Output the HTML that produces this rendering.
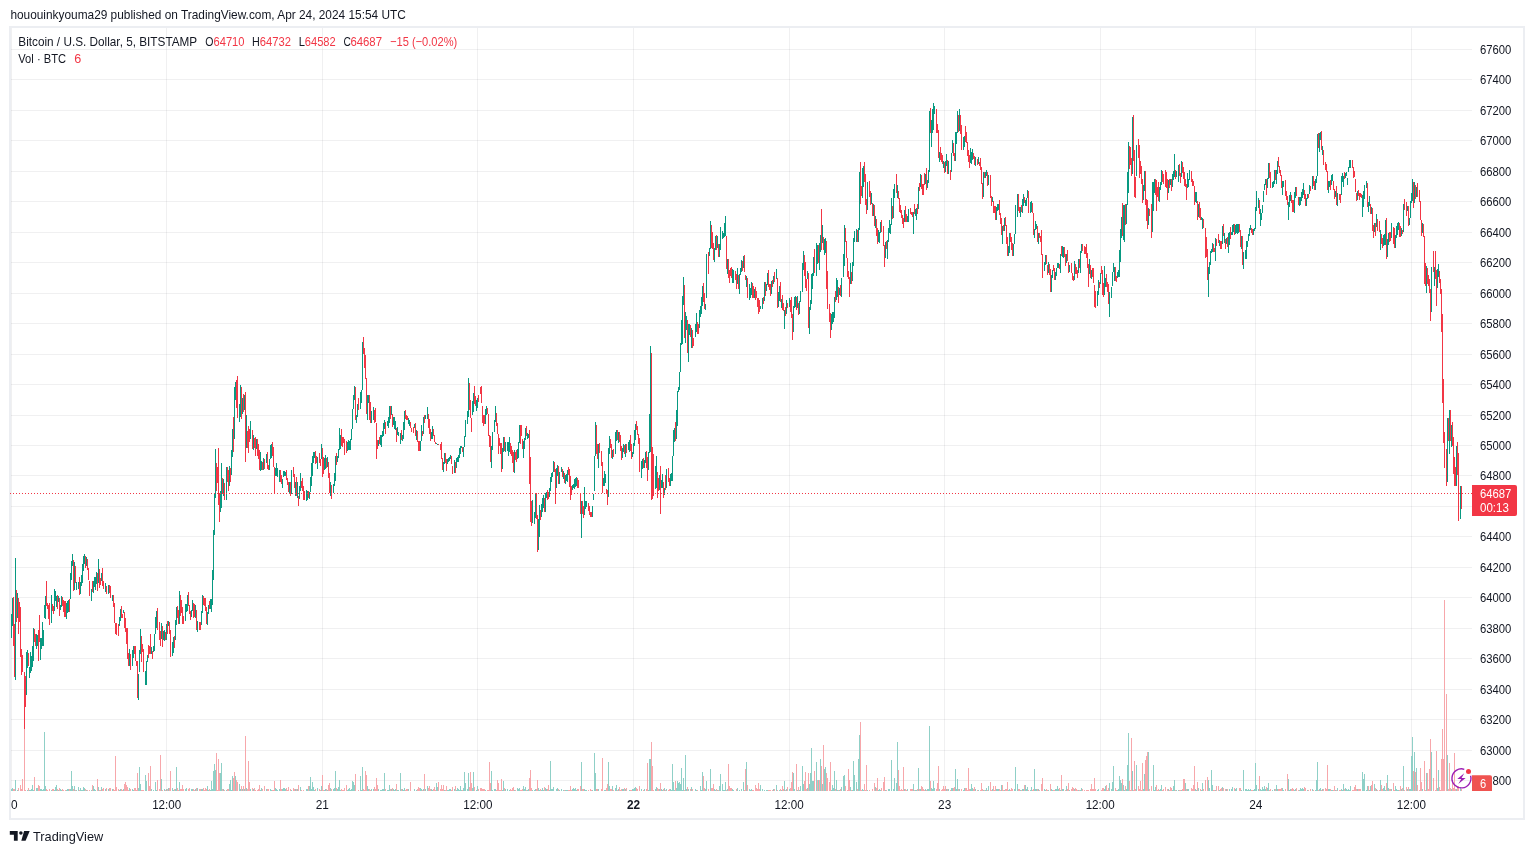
<!DOCTYPE html>
<html><head><meta charset="utf-8"><title>BTCUSD chart</title>
<style>html,body{margin:0;padding:0;background:#fff;width:1534px;height:854px;overflow:hidden}</style>
</head><body>
<svg width="1534" height="854" viewBox="0 0 1534 854" style="position:absolute;left:0;top:0;font-family:'Liberation Sans',Arial,sans-serif">
<rect x="0" y="0" width="1534" height="854" fill="#ffffff"/>
<g shape-rendering="crispEdges">
<rect x="9" y="26" width="1516" height="2" fill="#eceef2"/>
<rect x="9" y="818" width="1516" height="2" fill="#eceef2"/>
<rect x="9" y="26" width="2" height="794" fill="#eceef2"/>
<rect x="1523" y="26" width="2" height="794" fill="#eceef2"/>
<path d="M11 49H1472M11 79H1472M11 110H1472M11 140H1472M11 171H1472M11 201H1472M11 232H1472M11 262H1472M11 293H1472M11 323H1472M11 354H1472M11 384H1472M11 415H1472M11 445H1472M11 475H1472M11 506H1472M11 536H1472M11 567H1472M11 597H1472M11 628H1472M11 658H1472M11 689H1472M11 719H1472M11 750H1472M11 780H1472" stroke="#2a2e39" stroke-opacity="0.07" stroke-width="1" fill="none" transform="translate(0,0.5)"/>
<path d="M11 28V791M166 28V791M322 28V791M477 28V791M633 28V791M789 28V791M944 28V791M1100 28V791M1255 28V791M1411 28V791" stroke="#2a2e39" stroke-opacity="0.07" stroke-width="1" fill="none" transform="translate(0.5,0)"/>
</g>
<g shape-rendering="crispEdges" transform="translate(0.5,0)">
<path d="M11 789v2M12 788v3M15 780v11M17 790v1M27 790v1M29 790v1M30 790v1M31 789v2M32 785v6M33 790v1M36 788v3M37 788v3M40 789v2M41 789v2M42 790v1M43 789v2M44 732v59M45 786v5M51 790v1M54 790v1M55 787v4M56 785v6M58 790v1M60 789v2M61 790v1M66 790v1M67 789v2M68 789v2M70 789v2M71 771v20M72 786v5M74 786v5M76 790v1M78 787v4M80 788v3M81 790v1M82 790v1M83 787v4M84 788v3M86 790v1M91 790v1M93 786v5M94 789v2M95 790v1M98 787v4M101 787v4M105 789v2M108 789v2M112 789v2M119 790v1M120 789v2M123 789v2M129 788v3M132 789v2M133 790v1M138 788v3M139 767v24M140 784v7M145 775v16M146 781v10M151 789v2M153 790v1M155 782v9M156 790v1M161 779v12M164 789v2M166 789v2M168 788v3M172 788v3M173 790v1M175 789v2M176 767v24M179 782v9M185 789v2M186 788v3M191 789v2M192 789v2M195 789v2M197 788v3M201 789v2M202 789v2M207 786v5M208 790v1M210 790v1M211 781v10M212 789v2M213 771v20M214 764v27M215 770v21M220 773v18M221 763v28M223 789v2M226 790v1M229 784v7M230 780v11M231 790v1M232 776v15M235 776v15M239 784v7M240 789v2M242 789v2M244 789v2M246 788v3M250 789v2M253 789v2M260 790v1M261 788v3M266 789v2M270 789v2M271 790v1M275 788v3M276 789v2M277 790v1M279 789v2M282 789v2M283 788v3M284 788v3M285 789v2M291 790v1M295 789v2M297 789v2M300 787v4M306 789v2M307 789v2M309 786v5M310 777v14M311 789v2M312 782v9M313 787v4M314 790v1M317 788v3M321 786v5M324 790v1M325 789v2M327 790v1M330 788v3M333 789v2M334 788v3M335 771v20M337 789v2M338 787v4M339 780v11M340 790v1M347 790v1M348 789v2M349 788v3M350 790v1M351 789v2M352 781v10M353 782v9M354 785v6M360 776v15M361 790v1M362 767v24M367 786v5M368 789v2M371 789v2M373 789v2M378 789v2M380 790v1M381 790v1M382 789v2M383 789v2M384 773v18M387 790v1M388 790v1M389 785v6M391 789v2M393 789v2M394 790v1M395 789v2M397 790v1M398 790v1M400 773v18M402 789v2M403 790v1M404 788v3M408 789v2M414 789v2M416 790v1M420 788v3M421 789v2M423 789v2M425 789v2M427 786v5M431 789v2M432 790v1M436 783v8M437 787v4M444 790v1M447 790v1M448 790v1M449 789v2M450 789v2M454 789v2M456 790v1M457 788v3M458 789v2M459 790v1M460 786v5M461 790v1M463 788v3M464 772v19M465 783v8M467 789v2M468 773v18M472 788v3M473 772v19M476 790v1M477 786v5M485 790v1M491 771v20M492 790v1M494 789v2M495 789v2M502 790v1M503 781v10M505 789v2M507 789v2M509 790v1M514 790v1M517 788v3M518 789v2M519 788v3M523 786v5M524 789v2M525 787v4M527 790v1M528 789v2M532 790v1M534 790v1M535 789v2M538 788v3M539 790v1M541 790v1M542 788v3M543 790v1M545 788v3M546 789v2M549 790v1M550 761v30M551 789v2M552 789v2M553 787v4M556 789v2M557 788v3M559 790v1M561 789v2M563 790v1M565 790v1M566 790v1M567 790v1M572 789v2M573 788v3M574 789v2M575 788v3M576 790v1M581 762v29M584 789v2M585 790v1M586 790v1M592 790v1M594 753v38M595 773v18M598 789v2M604 790v1M605 790v1M608 762v29M609 786v5M612 786v5M615 788v3M616 785v6M618 789v2M622 789v2M623 789v2M625 789v2M629 790v1M632 789v2M633 789v2M634 788v3M635 787v4M641 789v2M644 789v2M648 790v1M649 759v32M650 759v32M655 789v2M656 787v4M659 789v2M661 789v2M662 790v1M664 788v3M666 789v2M670 789v2M671 790v1M672 764v27M673 782v9M674 790v1M676 788v3M677 781v10M678 783v8M679 782v9M680 784v7M681 768v23M682 790v1M683 778v13M685 755v36M686 789v2M688 789v2M691 787v4M695 789v2M696 790v1M700 786v5M701 790v1M702 772v19M705 789v2M706 781v10M710 769v22M714 789v2M715 790v1M717 790v1M719 786v5M720 774v17M722 784v7M723 790v1M724 790v1M725 782v9M727 789v2M732 789v2M733 790v1M737 788v3M739 790v1M741 789v2M743 782v9M746 762v29M749 789v2M750 790v1M751 789v2M760 785v6M762 789v2M764 790v1M766 790v1M767 790v1M773 789v2M776 785v6M779 790v1M781 790v1M784 781v10M786 789v2M789 789v2M793 773v18M794 789v2M797 790v1M799 790v1M800 786v5M802 766v25M803 784v7M807 788v3M809 784v7M810 773v18M811 748v43M812 781v10M813 781v10M816 762v29M818 780v11M820 759v32M822 784v7M824 769v22M825 767v24M831 790v1M832 785v6M833 788v3M834 771v20M836 780v11M837 790v1M839 790v1M841 787v4M843 776v15M844 775v16M850 787v4M852 790v1M853 761v30M854 775v16M856 782v9M858 759v32M859 735v56M862 789v2M863 790v1M867 790v1M875 787v4M878 790v1M879 789v2M880 790v1M885 790v1M888 789v2M889 789v2M891 760v31M893 789v2M894 778v13M896 783v8M897 742v49M904 789v2M907 789v2M913 784v7M915 790v1M916 790v1M918 768v23M920 789v2M925 789v2M927 789v2M928 789v2M929 726v65M931 788v3M932 789v2M933 781v10M934 788v3M939 789v2M946 789v2M948 789v2M951 788v3M952 788v3M955 769v22M956 789v2M957 779v12M959 789v2M963 790v1M964 788v3M970 789v2M971 784v7M972 788v3M975 789v2M978 790v1M983 790v1M985 790v1M986 788v3M988 786v5M992 789v2M996 789v2M997 789v2M998 789v2M1001 785v6M1004 790v1M1008 790v1M1009 789v2M1014 789v2M1015 767v24M1017 784v7M1020 790v1M1022 789v2M1023 789v2M1025 785v6M1026 789v2M1027 787v4M1030 790v1M1031 787v4M1034 769v22M1035 789v2M1036 789v2M1038 789v2M1044 789v2M1045 790v1M1048 790v1M1051 789v2M1052 790v1M1055 789v2M1056 789v2M1057 786v5M1058 789v2M1060 790v1M1062 789v2M1063 789v2M1066 786v5M1069 790v1M1074 789v2M1078 790v1M1080 790v1M1081 788v3M1097 790v1M1098 789v2M1104 789v2M1105 786v5M1109 783v8M1111 789v2M1112 782v9M1113 766v25M1117 790v1M1118 789v2M1119 776v15M1120 780v11M1121 783v8M1123 785v6M1124 790v1M1126 789v2M1127 765v26M1128 733v58M1132 771v20M1136 765v26M1143 789v2M1144 774v17M1148 752v39M1153 765v26M1154 790v1M1155 787v4M1159 790v1M1160 789v2M1161 785v6M1168 789v2M1172 790v1M1173 786v5M1174 780v11M1176 790v1M1178 790v1M1181 790v1M1185 783v8M1187 789v2M1188 789v2M1195 789v2M1196 790v1M1198 788v3M1201 790v1M1202 783v8M1208 780v11M1209 788v3M1211 770v21M1212 785v6M1215 790v1M1219 790v1M1222 787v4M1226 789v2M1229 789v2M1231 789v2M1232 787v4M1235 789v2M1236 788v3M1241 790v1M1243 770v21M1245 789v2M1246 789v2M1247 790v1M1248 789v2M1249 790v1M1250 789v2M1253 790v1M1254 789v2M1255 763v28M1256 785v6M1258 789v2M1260 789v2M1261 790v1M1262 787v4M1263 789v2M1264 786v5M1265 789v2M1267 788v3M1268 783v8M1272 790v1M1274 789v2M1276 785v6M1277 789v2M1282 788v3M1283 790v1M1288 779v12M1289 790v1M1290 789v2M1294 790v1M1295 789v2M1299 790v1M1300 788v3M1301 789v2M1302 788v3M1303 789v2M1307 790v1M1312 789v2M1315 790v1M1316 780v11M1317 762v29M1319 789v2M1320 788v3M1322 789v2M1328 789v2M1329 789v2M1331 790v1M1332 790v1M1335 790v1M1337 788v3M1341 789v2M1342 790v1M1343 784v7M1345 788v3M1346 789v2M1347 790v1M1348 789v2M1349 790v1M1350 786v5M1357 789v2M1362 772v19M1363 779v12M1364 774v17M1366 790v1M1367 786v5M1369 790v1M1370 786v5M1374 784v7M1376 789v2M1380 780v11M1383 788v3M1384 786v5M1385 790v1M1387 775v16M1388 788v3M1391 789v2M1395 786v5M1396 789v2M1397 790v1M1398 790v1M1401 789v2M1403 766v25M1407 789v2M1409 789v2M1410 789v2M1411 756v35M1412 737v54M1414 752v39M1416 768v23M1422 789v2M1426 773v18M1431 752v39M1437 788v3M1438 770v21M1447 755v36M1451 789v2M1456 789v2M1460 787v4" stroke="#8fd0c7" stroke-width="1" fill="none"/>
<path d="M13 789v2M14 789v2M18 788v3M20 785v6M21 789v2M22 779v12M24 725v66M25 790v1M28 788v3M34 777v14M38 785v6M39 786v5M46 789v2M47 790v1M49 789v2M52 789v2M53 789v2M57 789v2M59 788v3M62 789v2M63 790v1M65 790v1M69 789v2M73 789v2M75 790v1M79 790v1M85 789v2M87 790v1M89 790v1M92 785v6M97 779v12M99 790v1M100 790v1M102 789v2M103 788v3M106 788v3M109 788v3M110 788v3M113 789v2M114 790v1M115 756v35M116 787v4M118 789v2M121 789v2M122 790v1M124 784v7M125 782v9M126 785v6M127 787v4M128 790v1M130 789v2M134 788v3M135 788v3M136 790v1M137 773v18M141 790v1M142 790v1M143 790v1M148 773v18M149 786v5M150 766v25M157 780v11M159 789v2M160 755v36M162 790v1M165 790v1M167 789v2M169 788v3M170 771v20M174 789v2M177 788v3M178 790v1M180 789v2M181 789v2M182 785v6M183 789v2M188 789v2M189 788v3M193 789v2M194 790v1M196 788v3M199 789v2M200 789v2M203 788v3M204 790v1M205 788v3M206 789v2M209 789v2M216 753v38M217 790v1M218 759v32M219 773v18M222 789v2M224 790v1M227 789v2M228 789v2M233 778v13M234 772v19M236 780v11M237 782v9M241 786v5M243 786v5M245 736v55M247 789v2M248 761v30M249 782v9M252 788v3M254 788v3M255 790v1M257 790v1M258 789v2M259 785v6M262 789v2M264 786v5M267 789v2M268 789v2M272 790v1M273 790v1M274 781v10M280 780v11M281 789v2M286 788v3M287 790v1M288 787v4M290 789v2M293 788v3M294 789v2M296 789v2M298 785v6M301 790v1M303 790v1M308 786v5M315 789v2M319 789v2M320 790v1M322 775v16M323 790v1M326 789v2M328 785v6M329 783v8M331 789v2M336 788v3M341 789v2M342 790v1M343 790v1M344 788v3M346 785v6M355 774v17M358 790v1M363 789v2M364 790v1M365 771v20M366 775v16M369 789v2M370 790v1M374 787v4M375 789v2M376 778v13M377 785v6M385 789v2M390 789v2M392 788v3M396 784v7M401 789v2M405 790v1M406 789v2M407 789v2M410 782v9M417 789v2M418 787v4M419 788v3M422 790v1M424 774v17M428 788v3M429 786v5M430 789v2M433 789v2M434 787v4M435 790v1M438 782v9M440 789v2M441 785v6M442 789v2M443 785v6M445 790v1M446 786v5M451 790v1M452 787v4M455 786v5M462 790v1M469 787v4M470 772v19M471 783v8M474 787v4M478 789v2M480 788v3M481 788v3M482 789v2M483 789v2M484 789v2M487 790v1M488 790v1M489 762v29M490 783v8M496 790v1M497 780v11M498 783v8M499 790v1M500 790v1M501 779v12M504 788v3M510 789v2M511 790v1M512 788v3M513 787v4M515 790v1M520 790v1M521 790v1M522 789v2M526 790v1M529 778v13M530 770v21M531 788v3M536 789v2M537 780v11M540 789v2M544 787v4M547 789v2M548 785v6M558 789v2M564 790v1M568 790v1M569 790v1M570 786v5M571 790v1M577 789v2M578 789v2M580 786v5M582 789v2M583 789v2M588 790v1M590 789v2M591 790v1M596 789v2M597 789v2M601 789v2M602 758v33M606 788v3M607 784v7M610 789v2M611 789v2M613 790v1M617 790v1M619 787v4M620 790v1M621 789v2M624 788v3M626 788v3M630 790v1M631 790v1M636 788v3M637 789v2M639 786v5M643 790v1M646 789v2M647 763v28M651 742v49M652 766v25M653 790v1M657 788v3M658 789v2M660 783v8M663 789v2M665 790v1M668 790v1M669 789v2M675 781v10M684 790v1M687 787v4M690 789v2M692 789v2M697 790v1M703 776v15M704 788v3M708 789v2M711 788v3M712 788v3M713 784v7M716 789v2M718 790v1M726 790v1M728 764v27M729 786v5M730 788v3M731 788v3M736 789v2M744 790v1M745 769v22M747 785v6M752 790v1M753 790v1M755 785v6M756 788v3M757 789v2M758 783v8M759 789v2M768 790v1M769 790v1M770 790v1M772 790v1M774 789v2M777 790v1M780 789v2M782 786v5M783 789v2M785 790v1M787 787v4M790 788v3M791 782v9M792 772v19M796 764v27M798 787v4M804 781v10M805 772v19M806 789v2M808 773v18M814 771v20M817 780v11M819 780v11M821 766v25M823 745v46M826 773v18M827 778v13M829 782v9M830 762v29M835 789v2M838 790v1M840 789v2M845 786v5M847 790v1M848 769v22M849 780v11M851 790v1M857 789v2M860 722v69M861 790v1M864 784v7M865 790v1M866 765v26M869 790v1M872 789v2M874 783v8M876 788v3M877 778v13M881 788v3M883 782v9M884 777v14M886 790v1M898 770v21M899 786v5M900 790v1M901 789v2M902 790v1M903 767v24M905 789v2M906 790v1M910 789v2M911 789v2M912 789v2M914 790v1M917 789v2M919 789v2M921 786v5M922 787v4M923 789v2M924 790v1M926 790v1M930 781v10M936 789v2M937 783v8M938 766v25M941 790v1M942 789v2M943 786v5M944 789v2M945 786v5M947 789v2M950 790v1M953 788v3M954 787v4M958 789v2M961 789v2M965 788v3M966 788v3M967 790v1M968 768v23M969 789v2M973 789v2M974 787v4M977 790v1M980 790v1M981 783v8M982 789v2M984 790v1M987 790v1M990 782v9M991 790v1M993 786v5M994 790v1M995 786v5M999 789v2M1000 790v1M1002 785v6M1003 790v1M1005 789v2M1006 789v2M1007 782v9M1010 790v1M1011 788v3M1012 789v2M1018 789v2M1019 789v2M1021 790v1M1024 785v6M1028 790v1M1032 790v1M1033 789v2M1037 789v2M1039 790v1M1041 784v7M1042 778v13M1046 789v2M1047 790v1M1050 784v7M1053 790v1M1054 790v1M1059 788v3M1061 775v16M1065 790v1M1067 789v2M1068 783v8M1071 789v2M1072 787v4M1073 788v3M1075 788v3M1076 789v2M1077 790v1M1079 790v1M1082 789v2M1084 790v1M1086 790v1M1087 790v1M1088 790v1M1090 789v2M1091 784v7M1092 789v2M1093 789v2M1094 778v13M1095 789v2M1101 790v1M1102 788v3M1103 788v3M1106 785v6M1107 790v1M1108 788v3M1115 788v3M1116 790v1M1122 779v12M1125 786v5M1129 781v10M1130 790v1M1131 738v53M1133 790v1M1134 761v30M1135 789v2M1138 786v5M1139 789v2M1140 781v10M1141 790v1M1142 763v28M1145 760v31M1146 756v35M1147 752v39M1149 789v2M1151 786v5M1156 785v6M1157 790v1M1158 789v2M1162 790v1M1163 789v2M1165 787v4M1167 789v2M1169 790v1M1170 787v4M1171 788v3M1175 790v1M1179 790v1M1180 790v1M1182 789v2M1183 779v12M1184 779v12M1186 789v2M1191 788v3M1192 789v2M1193 785v6M1194 766v25M1197 782v9M1200 789v2M1203 789v2M1205 780v11M1207 777v14M1213 790v1M1214 790v1M1216 786v5M1218 786v5M1220 789v2M1221 788v3M1223 788v3M1225 789v2M1227 789v2M1234 788v3M1239 788v3M1240 788v3M1251 790v1M1252 790v1M1259 776v15M1266 787v4M1269 790v1M1270 789v2M1275 789v2M1278 789v2M1279 789v2M1280 789v2M1281 788v3M1285 789v2M1287 774v17M1291 789v2M1292 788v3M1293 789v2M1296 788v3M1298 790v1M1304 787v4M1305 788v3M1308 790v1M1310 789v2M1313 790v1M1318 790v1M1321 790v1M1323 789v2M1325 788v3M1326 789v2M1327 765v26M1330 789v2M1333 790v1M1334 786v5M1336 790v1M1339 790v1M1340 790v1M1344 789v2M1352 790v1M1353 790v1M1354 787v4M1355 785v6M1356 789v2M1358 789v2M1359 789v2M1360 789v2M1368 786v5M1371 785v6M1372 781v10M1375 788v3M1377 790v1M1379 790v1M1381 785v6M1382 789v2M1386 783v8M1389 789v2M1390 789v2M1393 783v8M1394 790v1M1399 790v1M1400 786v5M1402 788v3M1404 790v1M1406 787v4M1408 787v4M1413 771v20M1415 772v19M1417 785v6M1419 790v1M1420 768v23M1421 782v9M1424 761v30M1425 790v1M1427 773v18M1428 789v2M1429 769v22M1430 739v52M1433 778v13M1435 790v1M1436 751v40M1439 787v4M1440 790v1M1441 759v32M1442 729v62M1443 759v32M1444 600v191M1446 694v97M1448 789v2M1449 763v28M1450 788v3M1452 780v11M1453 788v3M1454 753v38M1455 789v2M1457 786v5M1458 786v5M1461 789v2" stroke="#f7a7ab" stroke-width="1" fill="none"/>
<path d="M11 614v24M12 598v28M15 558v122M17 593v25M26 652v43M27 650v18M29 667v11M30 652v21M31 656v15M32 646v21M33 628v33M36 634v15M37 635v11M40 638v22M41 638v11M42 622v24M43 630v16M44 605v13M45 596v23M51 595v28M54 589v22M55 591v10M56 596v11M58 596v6M60 605v5M61 596v11M66 603v16M67 601v12M68 600v12M70 573v26M71 561v19M72 554v12M74 562v28M76 582v8M78 582v7M80 582v12M81 575v11M82 564v19M83 556v15M84 554v10M86 557v9M91 589v12M93 581v12M94 577v10M95 577v13M96 572v12M98 559v24M101 573v8M105 583v9M108 585v9M112 595v6M119 617v9M120 609v12M123 610v3M129 649v17M132 650v16M133 646v12M138 674v26M139 650v22M140 629v25M145 671v14M146 661v24M147 655v7M151 647v7M153 646v6M154 634v17M155 617v17M156 611v17M161 623v16M163 631v9M164 630v11M166 624v16M168 621v5M172 642v14M173 637v16M175 620v20M176 607v18M179 591v33M185 604v17M186 604v8M187 595v16M191 610v7M192 600v11M195 605v13M197 621v11M201 611v14M202 595v18M207 612v13M208 605v9M210 599v10M211 599v13M212 570v35M213 530v50M214 494v41M215 449v49M220 491v21M221 463v45M223 479v17M226 467v33M229 466v20M231 450v25M232 429v28M234 387v52M235 382v18M239 404v18M240 385v32M242 398v16M244 395v15M246 415v33M250 421v18M253 435v15M256 439v10M260 452v19M261 461v9M263 458v12M266 454v9M269 459v11M270 445v14M271 444v14M275 468v8M276 463v13M277 468v9M279 470v12M282 479v9M283 471v6M284 471v5M285 472v4M289 482v11M291 470v24M295 482v14M297 482v16M299 486v13M300 473v18M306 490v11M307 491v9M309 492v7M310 477v15M311 463v23M312 456v20M313 452v11M314 452v6M317 457v12M321 444v15M324 458v12M325 455v14M327 457v10M330 482v14M333 484v9M334 473v13M335 456v25M337 456v6M338 449v9M339 428v22M340 435v14M347 442v9M348 440v10M349 441v9M350 439v11M351 429v11M352 409v20M353 395v14M354 386v14M356 415v8M357 404v13M360 392v17M361 390v13M362 342v48M367 395v25M368 395v8M371 411v12M373 407v13M378 440v6M380 435v10M381 435v12M382 431v6M383 423v13M384 420v9M387 421v5M388 417v11M389 406v17M391 406v9M393 417v8M394 417v12M395 421v9M397 427v8M398 432v4M400 433v11M402 435v6M403 422v17M404 411v19M408 418v6M409 420v6M414 424v4M416 430v10M420 441v10M421 425v16M423 417v17M425 415v4M427 407v12M431 432v7M432 426v13M436 443v1M437 444v1M443 462v10M444 453v11M447 459v5M448 458v4M449 457v4M450 455v4M454 460v13M456 458v10M457 457v5M458 455v7M459 448v10M460 446v8M461 446v2M463 447v10M464 436v11M465 420v17M467 411v13M468 378v39M472 401v14M473 393v19M476 400v11M477 398v10M485 409v15M486 406v9M491 446v22M492 432v18M494 420v12M495 406v16M502 448v21M503 437v15M505 442v10M507 442v9M508 442v14M509 437v15M514 450v23M517 449v10M518 442v16M519 425v18M523 441v17M524 438v11M525 428v12M527 433v6M528 434v4M532 500v23M534 512v12M535 493v25M538 519v31M539 505v32M541 504v13M542 498v14M543 495v13M545 493v19M546 492v6M549 488v9M550 477v14M551 473v9M552 472v5M553 461v11M556 468v20M557 465v11M559 472v12M561 467v5M563 471v8M565 475v9M566 474v7M567 470v12M572 485v5M573 484v4M574 479v10M575 478v9M576 477v9M581 501v37M584 487v28M585 501v8M586 501v6M592 506v11M593 494v6M594 456v35M595 422v34M598 444v24M603 478v8M604 471v15M605 474v9M608 448v49M609 436v18M612 450v9M615 432v22M616 430v11M618 432v11M622 448v10M623 444v8M625 444v13M628 442v8M629 440v12M632 452v5M633 443v11M634 430v16M635 424v16M641 461v17M642 459v10M644 460v8M645 452v11M648 452v18M649 414v39M650 346v106M655 466v23M656 456v32M659 475v15M661 480v8M662 474v14M664 488v7M666 469v19M670 474v12M671 473v8M672 456v25M673 430v26M674 428v14M676 410v29M677 391v35M678 387v5M679 372v18M680 343v29M681 320v25M682 296v48M683 277v28M685 312v31M686 316v14M688 324v38M689 324v11M691 328v20M695 324v13M696 313v19M699 310v18M700 306v11M701 297v17M702 286v20M705 304v6M706 254v44M709 248v8M710 221v28M714 248v14M715 236v14M717 236v12M719 244v13M720 227v23M722 231v8M723 233v5M724 223v14M725 216v20M727 259v15M732 269v14M733 270v13M737 268v16M739 274v20M740 268v7M741 260v12M743 256v12M746 276v11M749 284v16M750 288v10M751 282v13M754 289v9M760 306v3M762 298v11M764 282v19M766 284v7M767 273v12M771 281v13M773 276v8M776 269v10M778 292v15M779 286v15M781 299v9M784 310v19M786 300v14M789 298v9M793 306v26M794 297v11M795 296v11M797 296v12M799 301v13M800 291v11M802 263v29M803 251v19M807 271v8M809 307v27M810 300v10M811 274v30M812 273v16M813 257v19M816 243v33M817 245v19M819 243v27M820 235v17M822 225v18M824 239v16M825 238v15M831 314v16M832 312v12M833 312v10M834 297v21M836 278v22M837 280v17M839 288v7M841 278v19M843 254v23M844 225v41M850 263v21M852 262v19M853 238v28M854 231v11M856 229v13M858 228v14M859 172v58M862 168v30M863 166v21M867 182v28M871 193v11M873 204v12M875 216v12M878 230v12M879 232v11M880 222v11M885 242v16M887 240v19M888 228v14M889 220v13M890 224v10M891 198v27M893 189v29M894 184v14M897 185v13M904 210v12M907 216v6M908 209v13M913 212v22M915 209v7M916 208v12M918 187v22M920 174v13M925 174v10M927 180v8M928 170v13M929 111v61M931 120v27M932 109v24M933 103v27M934 106v8M939 152v10M943 161v7M945 161v11M946 154v12M948 161v13M951 153v19M952 140v13M955 132v29M956 132v12M957 111v22M959 109v22M963 137v13M964 136v11M970 148v15M971 152v12M972 149v11M975 157v9M978 157v7M983 172v25M985 172v6M986 170v6M988 175v10M992 197v5M996 207v13M997 204v7M998 204v6M1002 226v18M1004 218v13M1008 246v10M1009 233v20M1013 244v12M1014 234v10M1015 205v29M1017 194v23M1020 207v10M1022 199v14M1023 194v12M1025 200v6M1026 198v8M1027 190v8M1030 202v11M1031 201v11M1034 229v9M1035 221v9M1036 224v5M1038 233v11M1044 262v9M1045 255v10M1048 262v11M1051 275v17M1052 270v8M1055 272v8M1056 268v8M1057 263v5M1058 263v5M1060 254v19M1062 246v11M1063 247v11M1066 254v9M1069 265v7M1074 261v19M1078 259v14M1080 251v22M1081 244v9M1089 259v15M1091 270v9M1097 291v15M1098 280v15M1100 273v11M1104 266v29M1105 278v9M1109 292v25M1111 287v11M1112 272v14M1113 263v9M1114 267v14M1117 272v6M1118 270v7M1119 250v27M1120 229v33M1121 217v21M1123 205v35M1124 205v37M1126 204v20M1127 172v33M1128 142v51M1132 117v57M1136 145v31M1143 185v15M1144 171v20M1148 208v17M1152 182v50M1153 182v29M1154 179v14M1159 187v15M1160 182v8M1161 170v15M1168 180v13M1170 179v6M1172 174v13M1173 171v9M1174 154v23M1176 171v6M1178 165v17M1181 161v16M1187 173v15M1188 179v8M1189 170v10M1195 192v10M1196 192v11M1198 204v13M1201 217v3M1202 218v11M1208 267v30M1209 262v12M1210 251v14M1211 249v4M1212 243v9M1215 238v23M1219 240v6M1222 226v18M1224 233v10M1226 238v6M1228 233v20M1229 232v13M1231 232v3M1232 225v10M1233 224v8M1235 225v9M1236 224v9M1237 224v10M1238 224v9M1241 236v13M1243 252v17M1245 250v9M1246 241v18M1247 241v6M1248 234v7M1249 228v8M1250 225v5M1253 229v6M1254 228v3M1255 207v22M1256 191v20M1258 198v10M1260 209v17M1261 213v7M1262 205v8M1263 191v11M1264 184v6M1265 179v6M1267 178v10M1268 163v16M1272 182v6M1273 181v6M1274 170v14M1276 170v14M1277 161v13M1282 181v14M1283 181v6M1288 202v18M1289 195v12M1290 192v9M1294 192v21M1295 187v11M1299 197v9M1300 197v8M1301 192v9M1302 189v9M1303 183v12M1306 198v8M1307 194v5M1309 185v9M1312 176v13M1315 179v11M1316 176v7M1317 134v42M1319 133v19M1320 132v8M1322 146v9M1328 181v12M1329 181v6M1331 175v10M1332 174v7M1335 191v6M1337 193v13M1341 176v19M1342 173v9M1343 176v11M1345 173v5M1346 172v4M1347 178v7M1348 167v5M1349 160v8M1350 160v8M1357 191v9M1362 195v22M1363 191v16M1364 185v14M1366 181v7M1368 202v10M1369 196v10M1371 207v7M1374 223v9M1376 214v13M1380 230v20M1383 235v11M1384 234v11M1385 220v25M1387 239v18M1388 233v12M1391 223v15M1395 235v13M1396 226v12M1397 223v12M1398 222v8M1401 228v8M1403 204v28M1407 206v5M1409 218v7M1410 201v17M1411 193v10M1412 179v22M1414 182v21M1416 187v10M1422 223v10M1426 266v27M1431 267v45M1434 267v19M1437 269v19M1438 264v13M1447 418v64M1449 410v44M1451 425v22M1456 446v40M1460 486v33" stroke="#089981" stroke-width="1" fill="none"/>
<path d="M13 597v49M14 624v53M16 590v32M18 598v36M19 602v20M20 607v50M21 649v26M22 655v17M24 672v57M25 676v31M28 653v13M34 629v13M35 634v12M38 630v31M39 615v27M46 581v25M47 603v6M48 605v14M49 603v22M52 604v7M53 606v8M57 595v14M59 598v18M62 597v9M63 600v12M64 601v16M65 601v16M69 599v13M73 560v31M75 566v17M79 577v18M85 556v12M87 559v11M88 568v12M89 581v15M92 581v11M97 573v18M99 569v19M100 578v7M102 568v18M103 581v8M106 586v8M109 585v8M110 586v12M113 595v12M114 603v20M115 623v11M116 623v12M118 624v12M121 606v12M122 614v4M124 612v16M125 618v14M126 628v16M127 628v31M128 653v13M130 654v16M134 646v8M135 646v15M136 661v5M137 661v37M141 636v26M142 644v8M143 649v23M148 645v13M149 646v8M150 634v20M152 651v8M157 608v22M159 622v18M160 631v15M162 626v21M165 632v8M167 621v13M169 622v12M170 630v27M174 636v12M177 606v12M178 610v14M180 595v21M181 600v13M182 607v17M183 616v8M188 592v14M189 605v9M190 611v9M193 603v15M194 604v13M196 610v20M199 622v8M200 622v8M203 596v9M204 598v8M205 598v13M206 607v17M209 601v8M216 463v28M217 467v16M218 448v57M219 493v29M222 478v16M224 483v17M227 467v15M228 470v21M230 468v14M233 417v35M236 380v28M237 376v42M241 387v32M243 394v18M245 392v70M247 431v17M248 426v27M249 429v13M252 430v19M254 438v10M255 437v19M257 439v17M258 444v15M259 450v20M262 462v8M264 459v10M267 452v17M268 465v5M272 442v14M273 447v20M274 467v26M280 470v12M281 475v9M286 470v10M287 478v7M288 482v10M290 482v14M293 467v10M294 474v14M296 477v19M298 496v10M301 481v7M302 478v13M303 486v14M304 491v9M308 491v7M315 451v13M316 456v7M319 453v10M320 459v7M322 448v29M323 457v17M326 458v10M328 462v16M329 473v20M331 485v14M336 453v12M341 429v17M342 437v10M343 437v6M344 439v16M346 441v12M355 387v33M358 398v12M363 337v17M364 348v20M365 355v24M366 378v36M369 395v25M370 402v21M374 410v13M375 408v14M376 423v36M377 440v9M379 437v7M385 422v12M390 406v13M392 414v13M396 428v14M401 430v10M405 410v9M406 415v5M407 416v4M410 422v6M411 428v4M413 427v6M415 423v13M417 431v11M418 441v10M419 441v10M422 431v5M424 415v8M428 414v14M429 419v15M430 429v12M433 429v7M434 435v7M435 442v2M438 444v1M440 444v6M441 442v17M442 458v12M445 453v10M446 459v12M451 456v8M452 466v8M455 462v11M462 447v5M469 383v27M470 400v18M471 418v14M474 386v18M475 396v10M478 395v7M480 387v7M481 386v17M482 406v17M483 415v11M484 415v9M487 408v6M488 414v22M489 435v12M490 436v26M496 413v13M497 423v11M498 434v20M499 438v8M500 443v11M501 443v29M504 437v14M510 443v11M511 446v10M512 450v13M513 452v20M515 452v8M516 450v12M520 425v19M521 425v11M522 439v10M526 426v10M529 430v54M530 457v65M531 501v25M536 493v26M537 515v37M540 510v10M544 498v14M547 490v10M548 492v7M554 462v10M555 469v35M558 466v18M562 469v8M564 473v10M568 467v8M569 469v18M570 476v24M571 486v9M577 478v10M578 480v8M580 493v21M582 501v13M583 506v12M588 503v8M589 506v9M590 512v5M591 512v5M596 425v29M597 444v15M599 443v10M601 451v15M602 462v31M606 489v5M607 490v15M610 439v9M611 444v14M613 449v8M617 430v10M619 432v10M620 435v16M621 446v14M624 445v9M626 444v9M630 435v16M631 444v15M636 421v9M637 426v9M638 434v10M639 438v34M643 458v10M646 451v17M647 457v24M651 353v147M652 447v52M653 454v42M657 472v26M658 478v13M660 466v48M663 482v16M665 475v15M668 468v14M669 478v8M675 422v19M684 285v53M687 320v33M690 325v12M692 330v18M693 338v8M697 322v12M698 324v10M703 283v19M704 293v16M708 252v22M711 225v23M712 232v17M713 243v17M716 235v15M718 244v13M726 236v33M728 259v19M729 270v13M730 268v8M731 267v11M735 271v9M736 274v15M738 275v14M742 261v10M744 255v17M745 275v5M747 278v20M752 283v15M753 286v12M755 287v13M756 291v7M757 298v9M758 298v16M759 300v12M763 297v7M765 282v14M768 270v17M769 284v6M770 284v12M772 280v7M774 272v10M777 278v30M780 282v20M782 295v15M783 303v8M785 307v9M787 303v5M790 300v12M791 297v21M792 314v26M796 297v13M798 303v12M804 255v21M805 262v26M806 279v12M808 273v55M814 249v24M818 245v18M821 209v41M823 237v13M826 241v48M827 271v38M829 304v18M830 313v25M835 291v11M838 287v16M840 285v11M845 228v14M846 241v17M847 258v19M848 271v8M849 277v20M851 272v12M857 230v12M860 162v42M861 186v10M864 162v20M865 174v31M866 199v15M869 181v16M870 191v14M872 203v13M874 205v21M876 219v17M877 228v16M881 220v12M883 226v20M884 245v22M886 241v8M892 206v13M896 174v19M898 191v8M899 198v14M900 205v8M901 210v8M902 215v9M903 218v10M905 206v16M906 214v8M910 208v6M911 212v3M912 212v5M914 204v10M917 204v10M919 183v8M921 175v14M922 184v11M923 184v11M924 173v12M926 168v22M930 108v25M936 109v24M937 124v9M938 130v28M940 147v13M941 153v9M942 155v9M944 162v11M947 160v14M950 170v10M953 143v13M954 153v8M958 115v17M960 115v19M961 125v25M965 126v16M966 132v11M967 142v14M968 150v12M969 155v13M973 153v6M974 156v9M977 159v6M979 162v4M980 158v12M981 167v17M982 183v16M984 172v6M987 172v14M990 175v23M991 196v10M993 201v12M994 206v7M995 206v14M999 200v15M1000 213v11M1001 218v17M1003 225v6M1005 217v9M1006 225v19M1007 237v19M1010 233v9M1011 237v13M1012 243v13M1018 194v17M1019 207v6M1021 205v7M1024 197v6M1028 191v22M1032 203v10M1033 213v22M1037 226v16M1039 233v5M1040 236v6M1041 230v25M1042 254v24M1046 255v9M1047 265v10M1049 264v11M1050 269v23M1053 265v6M1054 268v12M1059 264v5M1061 246v10M1064 247v10M1065 254v12M1067 250v11M1068 262v11M1071 263v10M1072 273v7M1073 276v5M1075 264v10M1076 267v7M1077 270v8M1079 259v9M1082 244v7M1084 246v8M1085 247v7M1086 244v14M1087 253v15M1088 264v23M1090 265v13M1092 268v9M1093 268v15M1094 285v22M1095 291v17M1099 282v6M1101 266v8M1102 270v25M1103 283v14M1106 274v13M1107 282v10M1108 284v20M1115 267v14M1116 276v6M1122 203v33M1125 204v21M1129 146v23M1130 147v18M1131 158v18M1133 115v46M1134 150v47M1135 177v21M1138 139v19M1139 145v33M1140 161v13M1141 166v18M1142 179v24M1145 171v34M1146 199v22M1147 200v29M1149 209v7M1151 204v34M1155 179v16M1156 180v31M1157 187v10M1158 182v19M1162 171v11M1163 174v10M1165 170v17M1166 172v16M1167 179v21M1169 179v9M1171 179v12M1175 170v9M1179 164v12M1180 173v10M1182 162v11M1183 167v12M1184 172v14M1185 179v8M1186 184v16M1191 171v11M1192 179v7M1193 181v5M1194 186v19M1197 201v19M1199 202v16M1200 208v12M1203 219v9M1205 228v30M1206 237v20M1207 249v31M1213 244v8M1214 248v4M1216 239v7M1218 234v9M1220 241v8M1221 241v8M1223 224v12M1225 239v10M1227 237v10M1230 227v12M1234 224v11M1239 224v8M1240 230v17M1242 236v29M1251 228v5M1252 229v6M1259 200v14M1266 179v16M1269 163v15M1270 172v16M1275 170v10M1278 157v10M1279 166v7M1280 170v6M1281 175v13M1285 180v16M1286 191v9M1287 196v9M1291 195v8M1292 200v12M1293 200v12M1296 187v9M1298 197v8M1304 190v9M1305 194v12M1308 194v4M1310 186v5M1313 176v10M1314 181v9M1318 133v15M1321 131v19M1323 150v15M1325 162v8M1326 164v8M1327 171v19M1330 180v10M1333 181v9M1334 189v10M1336 186v19M1339 194v6M1340 194v9M1344 172v7M1352 160v8M1353 167v11M1354 171v6M1355 179v13M1356 193v8M1358 190v6M1359 193v7M1360 193v4M1361 194v4M1367 183v24M1370 204v10M1372 208v23M1373 225v13M1375 223v13M1377 219v12M1379 221v11M1381 234v10M1382 238v10M1386 218v41M1389 232v10M1390 232v9M1393 227v17M1394 228v20M1399 223v14M1400 226v11M1402 230v4M1404 199v11M1406 202v14M1408 206v20M1413 182v26M1415 185v14M1417 183v14M1419 190v12M1420 201v19M1421 220v16M1423 224v13M1424 236v48M1425 263v23M1427 268v16M1428 275v11M1429 279v14M1430 289v32M1433 251v21M1435 251v28M1436 270v36M1439 271v12M1440 279v15M1441 289v43M1442 314v89M1443 379v64M1444 432v36M1446 449v37M1448 418v23M1450 410v31M1452 422v24M1453 437v37M1454 457v29M1455 467v19M1457 442v33M1458 453v68M1461 486v23" stroke="#f23645" stroke-width="1" fill="none"/>
</g>
<line x1="10" y1="493.5" x2="1472" y2="493.5" stroke="#f23645" stroke-width="1" stroke-dasharray="1 2" shape-rendering="crispEdges"/>
<g id="prices"><text x="1480.0" y="53.5" font-size="12.4" fill="#131722" text-anchor="start" font-weight="normal" textLength="31.4" lengthAdjust="spacingAndGlyphs">67600</text><text x="1480.0" y="83.5" font-size="12.4" fill="#131722" text-anchor="start" font-weight="normal" textLength="31.4" lengthAdjust="spacingAndGlyphs">67400</text><text x="1480.0" y="114.5" font-size="12.4" fill="#131722" text-anchor="start" font-weight="normal" textLength="31.4" lengthAdjust="spacingAndGlyphs">67200</text><text x="1480.0" y="144.5" font-size="12.4" fill="#131722" text-anchor="start" font-weight="normal" textLength="31.4" lengthAdjust="spacingAndGlyphs">67000</text><text x="1480.0" y="175.5" font-size="12.4" fill="#131722" text-anchor="start" font-weight="normal" textLength="31.4" lengthAdjust="spacingAndGlyphs">66800</text><text x="1480.0" y="205.5" font-size="12.4" fill="#131722" text-anchor="start" font-weight="normal" textLength="31.4" lengthAdjust="spacingAndGlyphs">66600</text><text x="1480.0" y="236.5" font-size="12.4" fill="#131722" text-anchor="start" font-weight="normal" textLength="31.4" lengthAdjust="spacingAndGlyphs">66400</text><text x="1480.0" y="266.5" font-size="12.4" fill="#131722" text-anchor="start" font-weight="normal" textLength="31.4" lengthAdjust="spacingAndGlyphs">66200</text><text x="1480.0" y="297.5" font-size="12.4" fill="#131722" text-anchor="start" font-weight="normal" textLength="31.4" lengthAdjust="spacingAndGlyphs">66000</text><text x="1480.0" y="327.5" font-size="12.4" fill="#131722" text-anchor="start" font-weight="normal" textLength="31.4" lengthAdjust="spacingAndGlyphs">65800</text><text x="1480.0" y="358.5" font-size="12.4" fill="#131722" text-anchor="start" font-weight="normal" textLength="31.4" lengthAdjust="spacingAndGlyphs">65600</text><text x="1480.0" y="388.5" font-size="12.4" fill="#131722" text-anchor="start" font-weight="normal" textLength="31.4" lengthAdjust="spacingAndGlyphs">65400</text><text x="1480.0" y="419.5" font-size="12.4" fill="#131722" text-anchor="start" font-weight="normal" textLength="31.4" lengthAdjust="spacingAndGlyphs">65200</text><text x="1480.0" y="449.5" font-size="12.4" fill="#131722" text-anchor="start" font-weight="normal" textLength="31.4" lengthAdjust="spacingAndGlyphs">65000</text><text x="1480.0" y="479.5" font-size="12.4" fill="#131722" text-anchor="start" font-weight="normal" textLength="31.4" lengthAdjust="spacingAndGlyphs">64800</text><text x="1480.0" y="510.5" font-size="12.4" fill="#131722" text-anchor="start" font-weight="normal" textLength="31.4" lengthAdjust="spacingAndGlyphs">64600</text><text x="1480.0" y="540.5" font-size="12.4" fill="#131722" text-anchor="start" font-weight="normal" textLength="31.4" lengthAdjust="spacingAndGlyphs">64400</text><text x="1480.0" y="571.5" font-size="12.4" fill="#131722" text-anchor="start" font-weight="normal" textLength="31.4" lengthAdjust="spacingAndGlyphs">64200</text><text x="1480.0" y="601.5" font-size="12.4" fill="#131722" text-anchor="start" font-weight="normal" textLength="31.4" lengthAdjust="spacingAndGlyphs">64000</text><text x="1480.0" y="632.5" font-size="12.4" fill="#131722" text-anchor="start" font-weight="normal" textLength="31.4" lengthAdjust="spacingAndGlyphs">63800</text><text x="1480.0" y="662.5" font-size="12.4" fill="#131722" text-anchor="start" font-weight="normal" textLength="31.4" lengthAdjust="spacingAndGlyphs">63600</text><text x="1480.0" y="693.5" font-size="12.4" fill="#131722" text-anchor="start" font-weight="normal" textLength="31.4" lengthAdjust="spacingAndGlyphs">63400</text><text x="1480.0" y="723.5" font-size="12.4" fill="#131722" text-anchor="start" font-weight="normal" textLength="31.4" lengthAdjust="spacingAndGlyphs">63200</text><text x="1480.0" y="754.5" font-size="12.4" fill="#131722" text-anchor="start" font-weight="normal" textLength="31.4" lengthAdjust="spacingAndGlyphs">63000</text><text x="1480.0" y="784.5" font-size="12.4" fill="#131722" text-anchor="start" font-weight="normal" textLength="31.4" lengthAdjust="spacingAndGlyphs">62800</text></g>
<clipPath id="tclip"><rect x="11" y="791" width="1460" height="27"/></clipPath>
<g clip-path="url(#tclip)"><text x="11.1" y="808.8" font-size="12.4" fill="#131722" text-anchor="middle" font-weight="normal" textLength="13.2" lengthAdjust="spacingAndGlyphs">20</text><text x="166.7" y="808.8" font-size="12.4" fill="#131722" text-anchor="middle" font-weight="normal" textLength="29.1" lengthAdjust="spacingAndGlyphs">12:00</text><text x="322.3" y="808.8" font-size="12.4" fill="#131722" text-anchor="middle" font-weight="normal" textLength="13.2" lengthAdjust="spacingAndGlyphs">21</text><text x="477.9" y="808.8" font-size="12.4" fill="#131722" text-anchor="middle" font-weight="normal" textLength="29.1" lengthAdjust="spacingAndGlyphs">12:00</text><text x="633.5" y="808.8" font-size="12.4" fill="#131722" text-anchor="middle" font-weight="bold" textLength="13.2" lengthAdjust="spacingAndGlyphs">22</text><text x="789.1" y="808.8" font-size="12.4" fill="#131722" text-anchor="middle" font-weight="normal" textLength="29.1" lengthAdjust="spacingAndGlyphs">12:00</text><text x="944.7" y="808.8" font-size="12.4" fill="#131722" text-anchor="middle" font-weight="normal" textLength="13.2" lengthAdjust="spacingAndGlyphs">23</text><text x="1100.2" y="808.8" font-size="12.4" fill="#131722" text-anchor="middle" font-weight="normal" textLength="29.1" lengthAdjust="spacingAndGlyphs">12:00</text><text x="1255.8" y="808.8" font-size="12.4" fill="#131722" text-anchor="middle" font-weight="normal" textLength="13.2" lengthAdjust="spacingAndGlyphs">24</text><text x="1411.4" y="808.8" font-size="12.4" fill="#131722" text-anchor="middle" font-weight="normal" textLength="29.1" lengthAdjust="spacingAndGlyphs">12:00</text></g>
<path d="M1472 485H1515a2 2 0 0 1 2 2V514a2 2 0 0 1 -2 2H1472Z" fill="#f23645"/>
<text x="1480" y="497.8" font-size="12.4" fill="#ffffff" textLength="31.4" lengthAdjust="spacingAndGlyphs">64687</text>
<text x="1480" y="511.9" font-size="12.4" fill="#ffffff" textLength="28.9" lengthAdjust="spacingAndGlyphs">00:13</text>
<path d="M1472 775.2H1490a2 2 0 0 1 2 2V791H1472Z" fill="#ef5350"/>
<text x="1479.9" y="788.1" font-size="12.6" fill="#ffffff" textLength="6.2" lengthAdjust="spacingAndGlyphs">6</text>
<g fill="none" stroke="#9b1fb5" stroke-width="1.4">
<path d="M1464.3 769.3A9.5 9.5 0 1 0 1470.6 775.8"/>
</g>
<circle cx="1468.5" cy="771.4" r="2.5" fill="#f23645"/>
<path d="M1464.2 773.2L1457.3 778.9H1461.2L1458.3 783.9L1465.6 777.9H1461.6Z" fill="#9b1fb5"/>
<text x="10.4" y="18.8" font-size="12.2" fill="#131722" textLength="395.4" lengthAdjust="spacingAndGlyphs">hououinkyouma29 published on TradingView.com, Apr 24, 2024 15:54 UTC</text>
<text x="18.3" y="46" font-size="12.6" fill="#131722" textLength="178.9" lengthAdjust="spacingAndGlyphs">Bitcoin / U.S. Dollar, 5, BITSTAMP</text>
<text x="205.3" y="46" font-size="12.6" fill="#131722" textLength="8.2" lengthAdjust="spacingAndGlyphs">O</text>
<text x="213.5" y="46" font-size="12.6" fill="#f23645" textLength="31" lengthAdjust="spacingAndGlyphs">64710</text>
<text x="252.0" y="46" font-size="12.6" fill="#131722" textLength="7.8" lengthAdjust="spacingAndGlyphs">H</text>
<text x="259.8" y="46" font-size="12.6" fill="#f23645" textLength="31.2" lengthAdjust="spacingAndGlyphs">64732</text>
<text x="298.8" y="46" font-size="12.6" fill="#131722" textLength="6.2" lengthAdjust="spacingAndGlyphs">L</text>
<text x="304.8" y="46" font-size="12.6" fill="#f23645" textLength="30.9" lengthAdjust="spacingAndGlyphs">64582</text>
<text x="343.4" y="46" font-size="12.6" fill="#131722" textLength="7.4" lengthAdjust="spacingAndGlyphs">C</text>
<text x="350.4" y="46" font-size="12.6" fill="#f23645" textLength="31.6" lengthAdjust="spacingAndGlyphs">64687</text>
<text x="390" y="46" font-size="12.6" fill="#f23645" textLength="67.3" lengthAdjust="spacingAndGlyphs">&#8722;15 (&#8722;0.02%)</text>
<text x="18.3" y="62.9" font-size="12.6" fill="#131722" textLength="47.7" lengthAdjust="spacingAndGlyphs">Vol &#183; BTC</text>
<text x="74.2" y="62.9" font-size="12.6" fill="#f23645">6</text>
<g fill="#131722">
<path d="M9.8 830.9H17.7V840.8H13.9V834.7H9.8Z"/>
<circle cx="20.9" cy="833.0" r="1.8"/>
<path d="M24.1 830.9H29.7L25.6 840.8H21.3Z"/>
</g>
<text x="33" y="840.8" font-size="12.8" fill="#131722" textLength="70.2" lengthAdjust="spacingAndGlyphs">TradingView</text>
</svg>
</body></html>
